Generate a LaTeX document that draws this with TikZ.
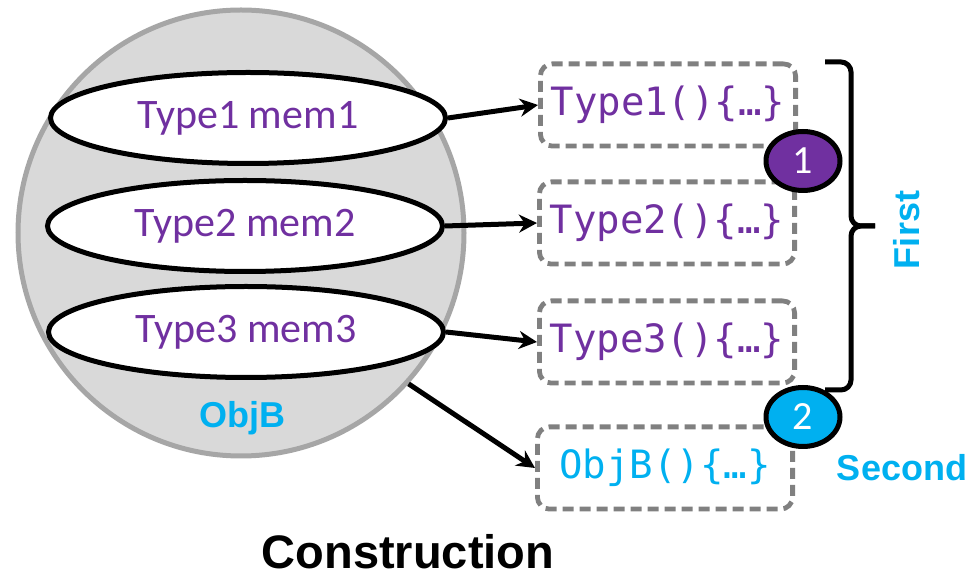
\documentclass[tikz,border=0pt]{standalone}
\usepackage{fontspec}
\setmainfont{Carlito}
\setmonofont{DejaVu Sans Mono}
\newfontfamily\headfont{Liberation Sans}
\usetikzlibrary{arrows.meta,shapes.geometric}
\definecolor{cpurple}{RGB}{112,48,160}
\definecolor{ccyan}{RGB}{0,176,240}
\definecolor{cgray}{RGB}{128,128,128}
\definecolor{cobjfill}{RGB}{217,217,217}
\definecolor{cobjline}{RGB}{166,166,166}

\begin{document}
\begin{tikzpicture}[
  x=0.5pt,y=-0.5pt,
  >={Stealth[length=9pt,width=9pt]},
  member/.style={ellipse,draw=black,fill=white,line width=2.5pt,minimum width=197.5pt,
        minimum height=45.5pt,inner sep=0pt,text=cpurple,font=\fontsize{21}{24}\selectfont},
  ctor/.style={draw=cgray,line width=2.4pt,dash pattern=on 5.5pt off 3pt,rounded corners=6pt,
        minimum width=127.6pt,minimum height=41.1pt,inner sep=0pt,
        font=\ttfamily\fontsize{19.5}{22}\selectfont},
  badge/.style={ellipse,draw=black,line width=2.5pt,minimum width=37pt,minimum height=29.5pt,
        inner sep=0pt,text=white,font=\fontsize{20}{22}\selectfont},
  tag/.style={text=ccyan,font=\headfont\bfseries\fontsize{18}{21}\selectfont},
  link/.style={->,line width=2.5pt},
]
\useasboundingbox (0,0) rectangle (980,576);

% ===== OBJECT WITH ITS MEMBERS =====
\node[circle,draw=cobjline,fill=cobjfill,line width=2.5pt,minimum size=223pt] (objB) at (241,233) {};
\node[member] (mem1) at (248,118) {Type1 mem1};
\node[member] (mem2) at (245,226) {Type2 mem2};
\node[member] (mem3) at (246,332) {Type3 mem3};
\node[tag] (objBname) at (242,418) {ObjB};

% ===== CONSTRUCTORS =====
\node[ctor,text=cpurple] (ctor1) at (668,105) {Type1()\{…\}};
\node[ctor,text=cpurple] (ctor2) at (667,223) {Type2()\{…\}};
\node[ctor,text=cpurple] (ctor3) at (667,342) {Type3()\{…\}};
\node[ctor,text=ccyan] (ctorB) at (665,468) {ObjB()\{…\}};

\draw[link] (mem1.east) -- (ctor1.west);
\draw[link] (mem2.east) -- (ctor2.west);
\draw[link] (mem3.east) -- (ctor3.west);
\draw[link] (objB.-42) -- (ctorB.west);

% ===== brace + order =====
\coordinate (brtop) at (825,62);
\coordinate (brbot) at (825,390);
\coordinate (brtip) at (875,226);
\draw[line width=2.5pt,rounded corners=5pt] (brtop) -| (851,226) -- (brtip);
\draw[line width=2.5pt,rounded corners=5pt] (brbot) -| (851,226) -- (brtip);

\node[badge,fill=cpurple] (step1) at (803,161) {1};
\node[badge,fill=ccyan] (step2) at (803,417) {2};
\node[tag,rotate=90] (first) at (907,230) {First};
\node[tag] (second) at (902,468) {Second};

\node[font=\headfont\bfseries\fontsize{23.5}{27}\selectfont] (title) at (408,552) {Construction};

\end{tikzpicture}
\end{document}
